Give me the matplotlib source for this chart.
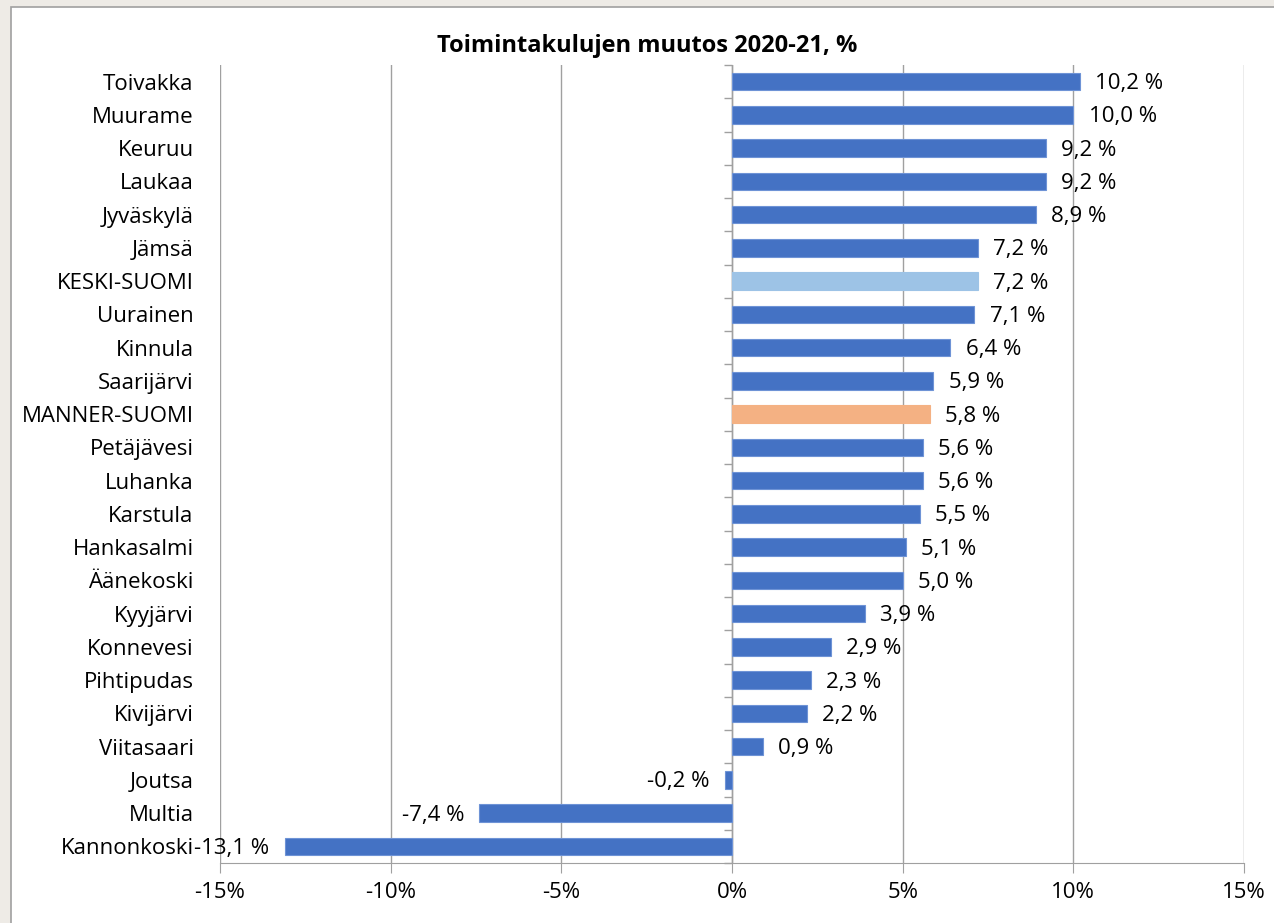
import matplotlib
matplotlib.use("Agg")
import matplotlib.pyplot as plt
from matplotlib.markers import TICKLEFT
from matplotlib.patches import Rectangle
import numpy as np

municipalities = ["Toivakka", "Muurame", "Keuruu", "Laukaa", "Jyväskylä", "Jämsä",
                  "KESKI-SUOMI", "Uurainen", "Kinnula", "Saarijärvi", "MANNER-SUOMI",
                  "Petäjävesi", "Luhanka", "Karstula", "Hankasalmi", "Äänekoski",
                  "Kyyjärvi", "Konnevesi", "Pihtipudas", "Kivijärvi", "Viitasaari",
                  "Joutsa", "Multia", "Kannonkoski"]
change_pct = [10.2, 10.0, 9.2, 9.2, 8.9, 7.2, 7.2, 7.1, 6.4, 5.9, 5.8, 5.6, 5.6,
              5.5, 5.1, 5.0, 3.9, 2.9, 2.3, 2.2, 0.9, -0.2, -7.4, -13.1]
x_ticks = [-15, -10, -5, 0, 5, 10, 15]

BLUE = "#4472C4"
special = {"KESKI-SUOMI": "#9DC3E6", "MANNER-SUOMI": "#F4B183"}

plt.rcParams["font.family"] = ["Open Sans", "DejaVu Sans"]
FS = 16

fig = plt.figure(figsize=(12.74, 9.23), dpi=100)
fig.patch.set_facecolor("#EEEBE6")
fig.patches.append(Rectangle((11 / 1274, -0.1), 1.2, 1.1 - 7 / 923,
                             transform=fig.transFigure, facecolor="white",
                             edgecolor="#A0A0A0", linewidth=1.2, zorder=-10))

ax = fig.add_axes([220 / 1274, 1 - 863 / 923, 1024 / 1274, 798 / 923])
ax.set_facecolor("white")

y = np.arange(len(municipalities))
colors = [special.get(m, BLUE) for m in municipalities]
edges = ["#6E93D6" if c == BLUE else c for c in colors]
bars = ax.barh(y, change_pct, height=0.52, color=colors, edgecolor=edges,
               linewidth=0.8, zorder=3)

labels = [("%.1f %%" % v).replace(".", ",") for v in change_pct]
anns = ax.bar_label(bars, labels=labels, padding=11, fontsize=FS)
for a in anns:
    # nudge labels a bit down, like in the original
    a.xyann = (a.xyann[0], -1.5)

ax.set_ylim(len(municipalities) - 0.5, -0.5)
ax.set_xlim(-15, 15)
ax.set_yticks(y)
ax.set_yticklabels(municipalities, fontsize=FS)
ax.tick_params(axis="y", length=0, pad=19)

ax.set_xticks(x_ticks)
ax.set_xticklabels(["%d%%" % t for t in x_ticks], fontsize=FS)
ax.tick_params(axis="x", length=7, color="#A0A0A0", pad=7)
ax.grid(axis="x", color="#A0A0A0", linewidth=1, zorder=0)

for s in ["left", "right", "top"]:
    ax.spines[s].set_visible(False)
ax.spines["bottom"].set_color("#A0A0A0")

# category axis at zero with small ticks between categories
ax.axvline(0, color="#A0A0A0", linewidth=1, zorder=2)
bounds = np.arange(len(municipalities) + 1) - 0.5
ax.plot(np.zeros(len(bounds)), bounds, ls="none", marker=TICKLEFT, ms=6,
        mew=1, color="#A0A0A0", zorder=2, clip_on=False)

fig.text(647 / 1274, 1 - 46 / 923, "Toimintakulujen muutos 2020-21, %",
         ha="center", va="center", fontsize=17, fontweight="bold")

fig.savefig("out.png", dpi=100, facecolor=fig.get_facecolor())
